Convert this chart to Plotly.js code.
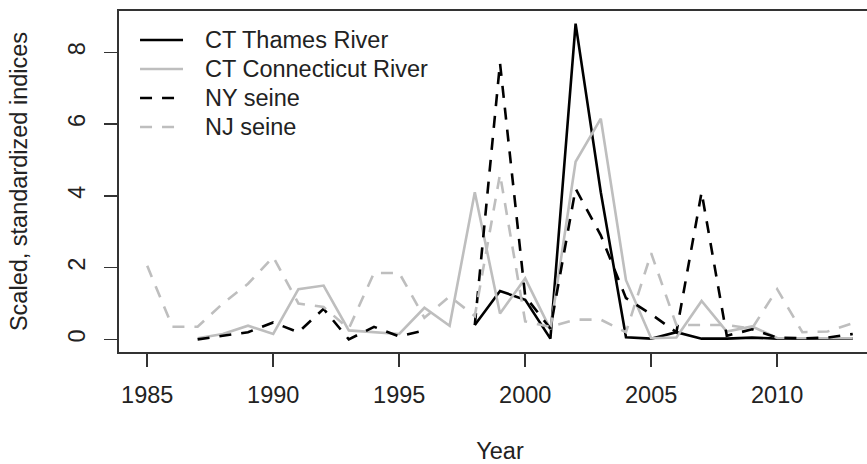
<!DOCTYPE html>
<html>
<head>
<meta charset="utf-8">
<script src="https://cdn.plot.ly/plotly-3.0.1.min.js"></script>
<style>
    html, body { margin: 0; padding: 0; background: #fff; overflow: hidden; }
    #wrap { width: 867px; height: 464px; overflow: hidden; }
</style>
</head>
<body>
<div id="wrap"><div id="chart"></div></div>
<script>
// ======================================================================
// データ（1985〜2013、欠測は null）
// ======================================================================
const years = [
    1985, 1986, 1987, 1988, 1989, 1990, 1991, 1992, 1993, 1994,
    1995, 1996, 1997, 1998, 1999, 2000, 2001, 2002, 2003, 2004,
    2005, 2006, 2007, 2008, 2009, 2010, 2011, 2012, 2013
];

const ctThames = [
    null, null, null, null, null, null, null, null, null, null,
    null, null, null, 0.4, 1.35, 1.1, 0.02, 8.8, 4.1, 0.06,
    0.02, 0.2, 0.02, 0.02, 0.05, 0.02, 0.02, 0.02, 0.02
];

const ctConnecticut = [
    null, null, 0.03, 0.15, 0.38, 0.15, 1.4, 1.5, 0.25, 0.2,
    0.15, 0.88, 0.38, 4.1, 0.72, 1.7, 0.28, 4.95, 6.15, 1.65,
    0.03, 0.05, 1.07, 0.22, 0.36, 0.04, 0.03, 0.03, 0.03
];

const nySeine = [
    null, null, 0.0, 0.1, 0.2, 0.47, 0.2, 0.85, 0.0, 0.35,
    0.08, 0.25, null, 0.4, 7.7, 1.2, 0.3, 4.2, 2.9, 1.15,
    0.7, 0.2, 4.1, 0.1, 0.28, 0.05, 0.03, 0.05, 0.15
];

const njSeine = [
    2.05, 0.35, 0.35, 1.0, 1.55, 2.3, 1.0, 0.9, 0.3, 1.85,
    1.85, 0.6, 1.2, 0.65, 4.6, 0.5, 0.35, 0.55, 0.55, 0.2,
    2.4, 0.4, 0.4, 0.4, 0.3, 1.4, 0.2, 0.22, 0.45
];

const seriesNames = ['CT Thames River', 'CT Connecticut River', 'NY seine', 'NJ seine'];
const xTicks = [1985, 1990, 1995, 2000, 2005, 2010];
const yTicks = [0, 2, 4, 6, 8];

// ======================================================================
// 描画
// ======================================================================
const FONT = '"Liberation Sans", Arial, sans-serif';
const TEXT_COLOR = '#222';
const GRAY = '#bebebe';
const DASH = '12px,10px';
const LINE_WIDTH = 2.6;

const styles = [
    { color: '#000', dash: 'solid' },
    { color: GRAY, dash: 'solid' },
    { color: '#000', dash: DASH },
    { color: GRAY, dash: DASH }
];

const seriesValues = [ctThames, ctConnecticut, nySeine, njSeine];

const data = seriesValues.map((y, i) => ({
    x: years,
    y: y,
    name: seriesNames[i],
    type: 'scatter',
    mode: 'lines',
    connectgaps: false,
    showlegend: false,
    line: { color: styles[i].color, width: LINE_WIDTH, dash: styles[i].dash }
}));

// 凡例（R の legend() と同じ行間にするため shapes + annotations で描く）
const legendShapes = [];
const legendAnnotations = [];
const legendTop = 0.915;   // 1 行目の中心（paper 座標）
const legendStep = 0.085;  // 行間
seriesNames.forEach((name, i) => {
    const yy = legendTop - i * legendStep;
    legendShapes.push({
        type: 'line',
        xref: 'paper', yref: 'paper',
        x0: 0.0276, x1: 0.084, y0: yy, y1: yy,
        line: { color: styles[i].color, width: LINE_WIDTH, dash: styles[i].dash }
    });
    legendAnnotations.push({
        xref: 'paper', yref: 'paper',
        x: 0.1105, y: yy,
        xanchor: 'left', yanchor: 'middle',
        text: name,
        showarrow: false,
        font: { family: FONT, size: 23.5, color: TEXT_COLOR }
    });
});

const layout = {
    width: 890,
    height: 464,
    margin: { l: 119, r: 9, t: 11, b: 112 },
    paper_bgcolor: '#fff',
    plot_bgcolor: '#fff',
    font: { family: FONT, size: 23.5, color: TEXT_COLOR },
    showlegend: false,
    shapes: legendShapes,
    annotations: legendAnnotations,
    xaxis: {
        range: [1983.88, 2014.12],
        tickvals: xTicks,
        ticktext: xTicks.map(String),
        ticks: 'outside',
        ticklen: 13,
        tickwidth: 1.5,
        tickcolor: '#333',
        ticklabelstandoff: 8,
        showline: true,
        linecolor: '#333',
        linewidth: 1.6,
        mirror: true,
        showgrid: false,
        zeroline: false,
        title: { text: 'Year', standoff: 50, font: { family: FONT, size: 23.5, color: TEXT_COLOR } }
    },
    yaxis: {
        range: [-0.352, 9.152],
        tickvals: yTicks,
        ticktext: yTicks.map(String),
        tickangle: -90,
        ticks: 'outside',
        ticklen: 13,
        tickwidth: 1.5,
        tickcolor: '#333',
        ticklabelstandoff: 10,
        showline: true,
        linecolor: '#333',
        linewidth: 1.6,
        mirror: true,
        showgrid: false,
        zeroline: false,
        title: { text: 'Scaled, standardized indices', standoff: 30, font: { family: FONT, size: 23.5, color: TEXT_COLOR } }
    }
};

Plotly.newPlot('chart', data, layout, { staticPlot: true, displayModeBar: false });
</script>
</body>
</html>
